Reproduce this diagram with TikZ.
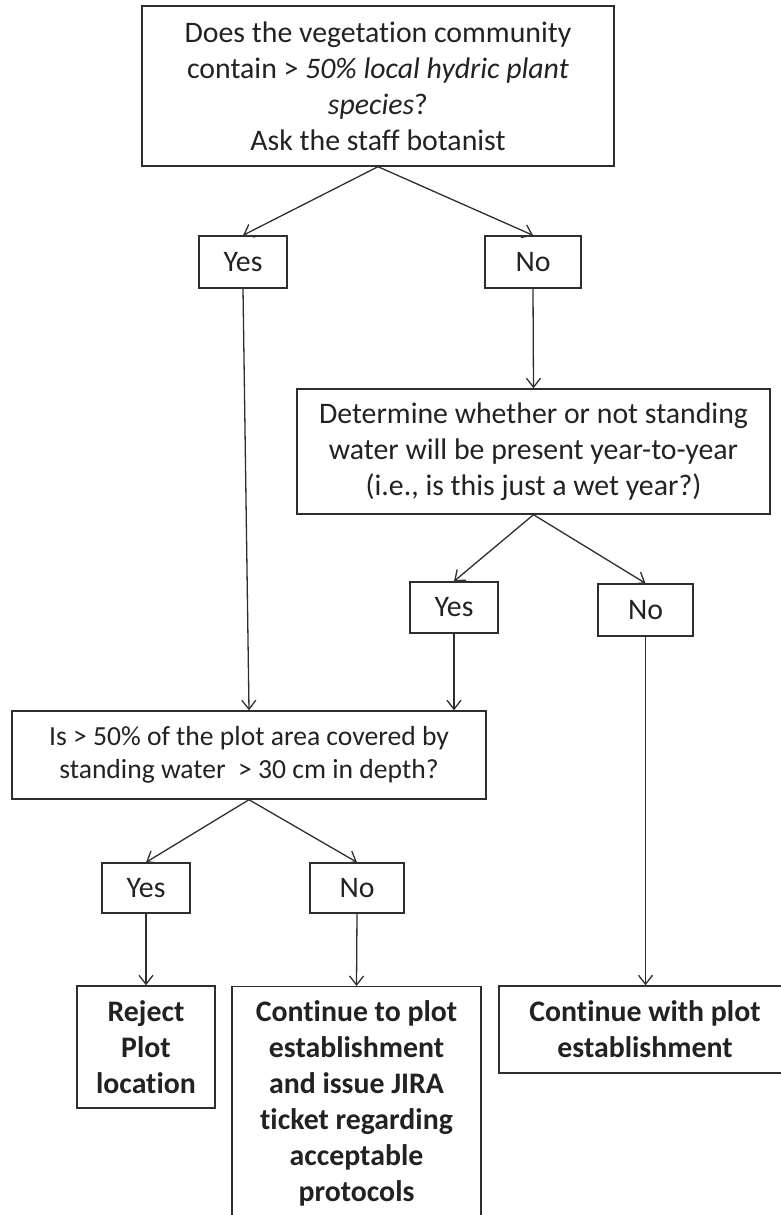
\documentclass[tikz,border=0pt]{standalone}
\usepackage{fontspec}
\setmainfont{Carlito}[Ligatures={NoCommon}]
\usetikzlibrary{arrows.meta}
\definecolor{ink}{HTML}{222222}
\definecolor{linec}{HTML}{2E2E2E}
\tikzset{
  box/.style={draw=linec, line width=1.4pt, inner sep=0pt, align=center, text=ink,
    font=\fontsize{29.8}{36}\selectfont},
  boldbox/.style={box, font=\fontsize{29.8}{36}\selectfont\bfseries},
  arr/.style={draw=linec, line width=1.3pt, -{Straight Barb[length=9pt,width=14pt,line width=1.3pt]}}
}
\begin{document}
\begin{tikzpicture}[x=1pt,y=-1pt]
\useasboundingbox (0,0) rectangle (781,1215);
\node[box, minimum width=472pt, minimum height=160pt] (q1) at (378,86)
  {Does the vegetation community\\contain > \textit{50\% local hydric plant}\\\textit{species}?\\Ask the staff botanist};
\node[box, minimum width=88pt, minimum height=52pt] (y1) at (243,262) {Yes};
\node[box, minimum width=96pt, minimum height=52pt] (n1) at (533,262) {No};
\node[box, minimum width=473pt, minimum height=125pt] (q2) at (533.5,451.5)
  {Determine whether or not standing\\water will be present year-to-year\\(i.e., is this just a wet year?)};
\node[box, minimum width=88pt, minimum height=51pt] (y2) at (454,607.5) {Yes};
\node[box, minimum width=95pt, minimum height=52pt] (n2) at (645.5,610) {No};
\node[box, minimum width=474pt, minimum height=88pt, font=\fontsize{27.6}{33}\selectfont] (q3) at (249,755)
  {Is > 50\% of the plot area covered by\\standing water\ \ > 30 cm in depth?};
\node[box, minimum width=88pt, minimum height=50pt] (y3) at (146,888) {Yes};
\node[box, minimum width=94pt, minimum height=50pt] (n3) at (357,888) {No};
\node[boldbox, minimum width=138pt, minimum height=122pt] (r) at (146,1047)
  {Reject\\Plot\\location};
\node[boldbox, minimum width=249pt, anchor=north, inner ysep=14pt, text depth=60pt] (j) at (356.5,986)
  {Continue to plot\\establishment\\and issue JIRA\\ticket regarding\\acceptable\\protocols};
\node[boldbox, minimum width=292pt, minimum height=87pt] (c) at (645,1029.5)
  {Continue with plot\\establishment};
\draw[arr] (q1.south) -- (y1.north);
\draw[arr] (q1.south) -- (n1.north);
\draw[arr] (y1.south) -- (q3.north);
\draw[arr] (n1.south) -- (q2.north);
\draw[arr] (q2.south) -- (y2.north);
\draw[arr] (q2.south) -- (n2.north);
\draw[arr] (y2.south) -- (y2.south |- q3.north);
\draw[arr] (n2.south) -- (n2.south |- c.north);
\draw[arr] (q3.south) -- (y3.north);
\draw[arr] (q3.south) -- (n3.north);
\draw[arr] (y3.south) -- (r.north);
\draw[arr] (n3.south) -- (j.north);
\end{tikzpicture}
\end{document}
